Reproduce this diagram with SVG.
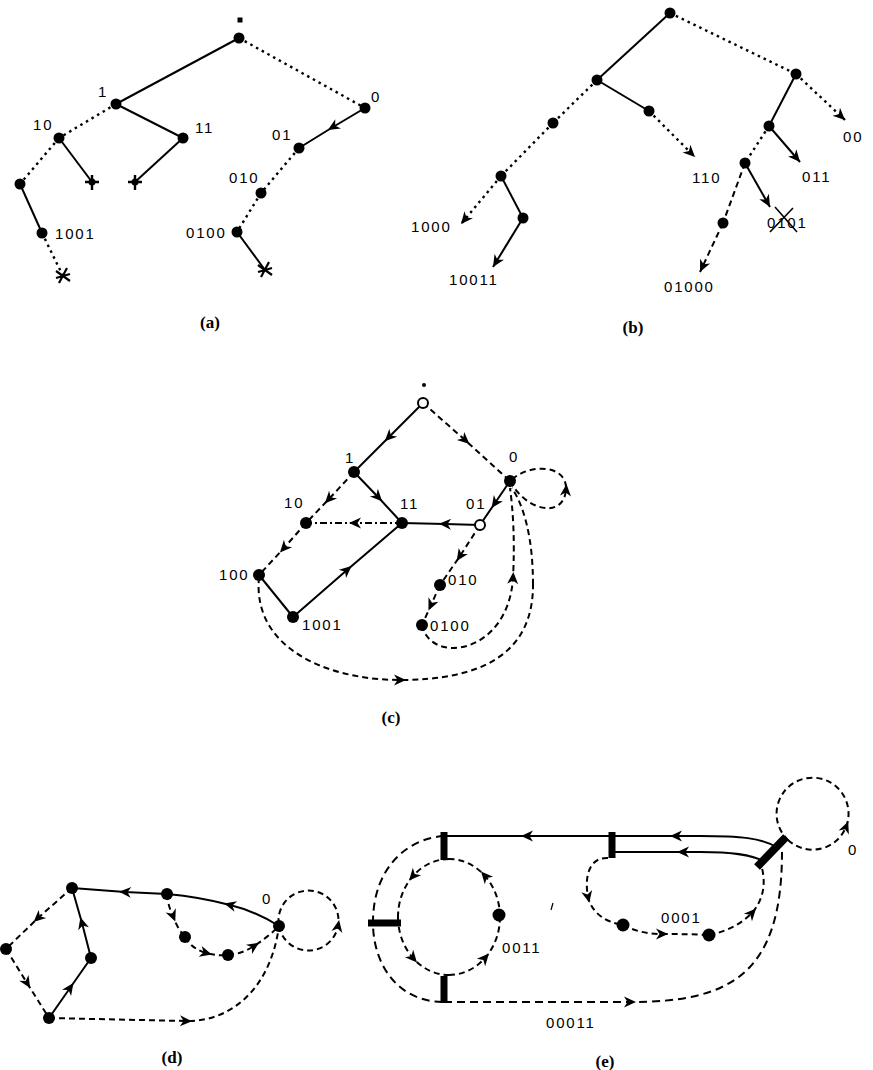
<svg xmlns="http://www.w3.org/2000/svg" width="873" height="1070" viewBox="0 0 873 1070">
<defs>
<style>
.e{fill:none;stroke:#000;stroke-width:2}
.dt{stroke-dasharray:2.5 4;stroke-width:2.4}
.ds{stroke-dasharray:6 4}
.dl{stroke-dasharray:8 5}
.dd{stroke-dasharray:7 3 2 3}
.m{marker-mid:url(#ah)}
.me{marker-end:url(#ahe)}
.n{fill:#000}
.o{fill:#fff;stroke:#000;stroke-width:2}
.bar{fill:#000}
.lb{font-family:"Liberation Sans",Arial,sans-serif;font-size:15px;letter-spacing:1.8px;fill:#000}
.cap{font-family:"Liberation Serif","Times New Roman",serif;font-size:17px;font-weight:bold;text-anchor:middle;fill:#000}
</style>
<marker id="ah" viewBox="-7 -6 14 12" markerWidth="14" markerHeight="12" refX="0" refY="0" orient="auto" markerUnits="userSpaceOnUse">
<path d="M6,0 L-6,-5.5 L-2.5,0 L-6,5.5 Z" fill="#000"/>
</marker>
<marker id="ahe" viewBox="-7 -6 14 12" markerWidth="14" markerHeight="12" refX="6" refY="0" orient="auto" markerUnits="userSpaceOnUse">
<path d="M6,0 L-6,-5.5 L-2.5,0 L-6,5.5 Z" fill="#000"/>
</marker>
<g id="star">
<path d="M-7,0 L7,0 M0,-7 L0,8" stroke="#000" stroke-width="2.4"/>
<circle r="3.5" fill="#000"/>
</g>
<g id="cross">
<path d="M-7,-5 L7,5 M-4,7 L4,-8 M-7,2 L7,-2" stroke="#000" stroke-width="2.2"/>
</g>
</defs>
<rect width="873" height="1070" fill="#fff"/>

<!-- ================= connectors ================= -->
<g id="connectors">
<!-- (a) -->
<line class="e" x1="239" y1="38" x2="116" y2="104"/>
<line class="e dt" x1="239" y1="38" x2="365" y2="108"/>
<line class="e dt" x1="116" y1="104" x2="59" y2="138"/>
<line class="e" x1="116" y1="104" x2="183" y2="138"/>
<line class="e" x1="59" y1="138" x2="92" y2="182"/>
<line class="e" x1="183" y1="138" x2="135" y2="182"/>
<line class="e dt" x1="59" y1="138" x2="20" y2="184"/>
<line class="e" x1="20" y1="184" x2="42" y2="233"/>
<line class="e dt" x1="42" y1="233" x2="63" y2="276"/>
<polyline class="e m" points="365,108 333,127 299,148"/>
<line class="e dt" x1="299" y1="148" x2="261" y2="193"/>
<line class="e dt" x1="261" y1="193" x2="237" y2="232"/>
<line class="e" x1="237" y1="232" x2="265" y2="270"/>

<!-- (b) -->
<line class="e" x1="670" y1="13" x2="597" y2="80"/>
<line class="e dt" x1="670" y1="13" x2="796" y2="74"/>
<line class="e" x1="597" y1="80" x2="649" y2="111"/>
<line class="e dt me" x1="649" y1="111" x2="695" y2="157"/>
<line class="e dt" x1="597" y1="80" x2="553" y2="123"/>
<line class="e dt" x1="553" y1="123" x2="501" y2="176"/>
<line class="e dt me" x1="501" y1="176" x2="461" y2="224"/>
<line class="e" x1="501" y1="176" x2="523" y2="218"/>
<line class="e me" x1="523" y1="218" x2="493" y2="267"/>
<line class="e dt me" x1="796" y1="74" x2="845" y2="120"/>
<line class="e" x1="796" y1="74" x2="769" y2="126"/>
<line class="e me" x1="769" y1="126" x2="800" y2="162"/>
<line class="e dt" x1="769" y1="126" x2="745" y2="163"/>
<line class="e me" x1="745" y1="163" x2="770" y2="207"/>
<line class="e ds" x1="745" y1="163" x2="723" y2="223"/>
<line class="e ds me" x1="723" y1="223" x2="700" y2="272"/>

<!-- (c) -->
<polyline class="e m" points="423,403 389,437 354,472"/>
<polyline class="e ds m" points="423,403 465,440 510,481"/>
<polyline class="e ds m" points="354,472 329,499 306,523"/>
<polyline class="e m" points="354,472 378,497 402,523"/>
<polyline class="e dd m" points="402,523 355,523 306,523"/>
<polyline class="e m" points="480,525 445,524 402,523"/>
<polyline class="e m" points="510,481 495,503 480,525"/>
<polyline class="e ds m" points="306,523 284,548 259,575"/>
<line class="e" x1="259" y1="575" x2="293" y2="617"/>
<polyline class="e m" points="293,617 347,570 402,523"/>
<polyline class="e ds m" points="480,525 460,556 440,585"/>
<polyline class="e ds m" points="440,585 431,605 422,625"/>
<path class="e ds m" d="M510,481 C525,510 563,520 566,490 C568,465 530,462 510,481"/>
<path class="e ds m" d="M422,625 C430,665 508,655 513,578 C515,540 513,510 510,488"/>
<path class="e ds m" d="M259,577 C252,650 330,680 400,680 C480,680 533,655 533,585"/>
<path class="e ds" d="M533,585 C533,535 523,505 512,488"/>

<!-- (d) -->
<path class="e m" d="M279,926 Q255,911 230,905 Q200,897 167,894"/>
<polyline class="e m" points="167,894 125,892 72,888"/>
<polyline class="e ds m" points="72,888 38,918 6,949"/>
<polyline class="e ds m" points="6,949 27,983 49,1018"/>
<polyline class="e m" points="49,1018 70,988 91,958"/>
<polyline class="e m" points="91,958 82,923 72,888"/>
<path class="e ds m" d="M167,894 Q168,906 173,916 Q177,928 185,937"/>
<path class="e ds m" d="M185,937 Q192,949 206,953 Q217,956 228,955"/>
<path class="e ds m" d="M228,955 Q242,954 254,946 Q268,937 279,926"/>
<path class="e ds m" d="M49,1018 L186,1021 C228,1022 270,992 279,926"/>
<path class="e ds m" d="M279,926 A30,30 0 0 0 338,926 A30,30 0 1 0 279,926"/>

<!-- (e) -->
<path class="e" d="M776,847 C762,838 740,836 700,836"/>
<polyline class="e m" points="700,836 676,836 527,836 444,836"/>
<path class="e" d="M765,862 C752,854 730,852 700,852"/>
<polyline class="e m" points="700,852 683,852 612,852"/>
<path class="e ds m" d="M608,858 C590,857 584,875 588,897 C592,913 605,922 623,925"/>
<path class="e ds m" d="M623,925 Q640,934 662,934 Q690,934 709,935"/>
<path class="e ds m" d="M709,935 Q735,930 752,913 C763,900 766,885 762,868"/>
<path class="e ds m" d="M449,859 A51,58 0 0 0 413,876 A51,58 0 0 0 398,917"/>
<path class="e ds m" d="M398,917 A51,58 0 0 0 413,958 A51,58 0 0 0 449,975"/>
<path class="e ds m" d="M449,975 A51,58 0 0 0 485,958 A51,58 0 0 0 500,917"/>
<path class="e ds m" d="M500,917 A51,58 0 0 0 485,876 A51,58 0 0 0 449,859"/>
<path class="e dl" d="M444,836 C410,838 374,865 373,920 C372,962 396,1002 444,1002"/>
<path class="e dl m" d="M444,1002 L630,1002 C730,1002 782,975 782,852"/>
<path class="e ds m" d="M788,840 A36,36 0 0 0 846,827 A36,36 0 1 0 788,840"/>
<line x1="553" y1="903" x2="551" y2="910" stroke="#000" stroke-width="1.2"/>
</g>

<!-- ================= nodes (a) ================= -->
<g id="a-root"><circle class="n" cx="239" cy="38" r="5.5"/><rect x="237.5" y="17.5" width="5" height="5" fill="#000"/></g>
<g id="a-1"><circle class="n" cx="116" cy="104" r="5.5"/><text class="lb" x="98" y="97">1</text></g>
<g id="a-0"><circle class="n" cx="365" cy="108" r="5.5"/><text class="lb" x="371" y="102">0</text></g>
<g id="a-10"><circle class="n" cx="59" cy="138" r="5.5"/><text class="lb" x="33" y="130">10</text></g>
<g id="a-11"><circle class="n" cx="183" cy="138" r="5.5"/><text class="lb" x="195" y="133">11</text></g>
<g id="a-100"><circle class="n" cx="20" cy="184" r="5.5"/></g>
<g id="a-1001"><circle class="n" cx="42" cy="233" r="5.5"/><text class="lb" x="55" y="239">1001</text></g>
<g id="a-01"><circle class="n" cx="299" cy="148" r="5.5"/><text class="lb" x="272" y="140">01</text></g>
<g id="a-010"><circle class="n" cx="261" cy="193" r="5.5"/><text class="lb" x="229" y="183">010</text></g>
<g id="a-0100"><circle class="n" cx="237" cy="232" r="5.5"/><text class="lb" x="186" y="238">0100</text></g>
<g id="a-t1"><use href="#star" x="92" y="182"/></g>
<g id="a-t2"><use href="#star" x="135" y="182"/></g>
<g id="a-t3"><use href="#cross" x="63" y="276"/></g>
<g id="a-t4"><use href="#cross" x="265" y="270"/></g>
<g id="a-cap"><text class="cap" x="210" y="328">(a)</text></g>

<!-- ================= nodes (b) ================= -->
<g id="b-root"><circle class="n" cx="670" cy="13" r="5.5"/></g>
<g id="b-1"><circle class="n" cx="597" cy="80" r="5.5"/></g>
<g id="b-0"><circle class="n" cx="796" cy="74" r="5.5"/></g>
<g id="b-11"><circle class="n" cx="649" cy="111" r="5.5"/></g>
<g id="b-10"><circle class="n" cx="553" cy="123" r="5.5"/></g>
<g id="b-100"><circle class="n" cx="501" cy="176" r="5.5"/></g>
<g id="b-1001"><circle class="n" cx="523" cy="218" r="5.5"/></g>
<g id="b-01"><circle class="n" cx="769" cy="126" r="5.5"/></g>
<g id="b-010"><circle class="n" cx="745" cy="163" r="5.5"/></g>
<g id="b-0100"><circle class="n" cx="723" cy="223" r="5.5"/></g>
<g id="b-l1000"><text class="lb" x="411" y="232">1000</text></g>
<g id="b-l10011"><text class="lb" x="449" y="285">10011</text></g>
<g id="b-l110"><text class="lb" x="692" y="183">110</text></g>
<g id="b-l00"><text class="lb" x="843" y="142">00</text></g>
<g id="b-l011"><text class="lb" x="802" y="182">011</text></g>
<g id="b-l0101"><text class="lb" x="767" y="228">0101</text><path d="M775,207 L797,232 M770,232 L793,208" stroke="#000" stroke-width="1.6"/></g>
<g id="b-l01000"><text class="lb" x="664" y="292">01000</text></g>
<g id="b-cap"><text class="cap" x="633" y="333">(b)</text></g>

<!-- ================= nodes (c) ================= -->
<g id="c-root"><circle class="o" cx="423" cy="403" r="5"/><circle class="n" cx="424" cy="385" r="2"/></g>
<g id="c-1"><circle class="n" cx="354" cy="472" r="6"/><text class="lb" x="345" y="463">1</text></g>
<g id="c-0"><circle class="n" cx="510" cy="481" r="6"/><text class="lb" x="509" y="462">0</text></g>
<g id="c-10"><circle class="n" cx="306" cy="523" r="6"/><text class="lb" x="284" y="508">10</text></g>
<g id="c-11"><circle class="n" cx="402" cy="523" r="6"/><text class="lb" x="400" y="509">11</text></g>
<g id="c-01"><circle class="o" cx="480" cy="525" r="5"/><text class="lb" x="466" y="509">01</text></g>
<g id="c-100"><circle class="n" cx="259" cy="575" r="6"/><text class="lb" x="219" y="580">100</text></g>
<g id="c-1001"><circle class="n" cx="293" cy="617" r="6"/><text class="lb" x="302" y="630">1001</text></g>
<g id="c-010"><circle class="n" cx="440" cy="585" r="6"/><text class="lb" x="448" y="585">010</text></g>
<g id="c-0100"><circle class="n" cx="422" cy="625" r="6"/><text class="lb" x="430" y="631">0100</text></g>
<g id="c-cap"><text class="cap" x="391" y="723">(c)</text></g>

<!-- ================= nodes (d) ================= -->
<g id="d-a"><circle class="n" cx="72" cy="888" r="6"/></g>
<g id="d-b"><circle class="n" cx="167" cy="894" r="6"/></g>
<g id="d-0"><circle class="n" cx="279" cy="926" r="6"/><text class="lb" x="262" y="904">0</text></g>
<g id="d-l"><circle class="n" cx="6" cy="949" r="6"/></g>
<g id="d-m"><circle class="n" cx="91" cy="958" r="6"/></g>
<g id="d-bot"><circle class="n" cx="49" cy="1018" r="6"/></g>
<g id="d-c"><circle class="n" cx="185" cy="937" r="6"/></g>
<g id="d-e"><circle class="n" cx="228" cy="955" r="6"/></g>
<g id="d-cap"><text class="cap" x="172" y="1063">(d)</text></g>

<!-- ================= nodes (e) ================= -->
<g id="e-bar1"><rect class="bar" x="440.5" y="832" width="7" height="28"/></g>
<g id="e-bar2"><rect class="bar" x="608.5" y="832" width="7" height="26"/></g>
<g id="e-bar3"><rect class="bar" x="368" y="919.5" width="33" height="7"/></g>
<g id="e-bar4"><rect class="bar" x="440.5" y="976" width="7" height="27"/></g>
<g id="e-bar5"><line x1="757" y1="867" x2="786" y2="837" stroke="#000" stroke-width="8"/><text class="lb" x="848" y="855">0</text></g>
<g id="e-0011"><circle class="n" cx="499" cy="915" r="6.5"/><text class="lb" x="502" y="953">0011</text></g>
<g id="e-p1"><circle class="n" cx="623" cy="925" r="6.5"/></g>
<g id="e-p2"><circle class="n" cx="709" cy="935" r="6.5"/><text class="lb" x="661" y="923">0001</text></g>
<g id="e-l00011"><text class="lb" x="546" y="1028">00011</text></g>
<g id="e-cap"><text class="cap" x="605" y="1067">(e)</text></g>
</svg>
